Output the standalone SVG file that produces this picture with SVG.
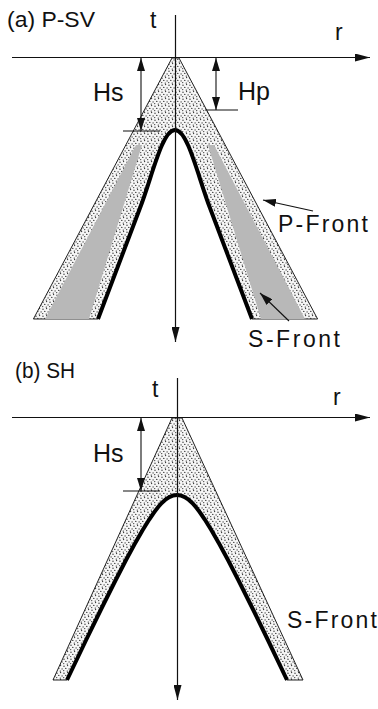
<svg xmlns="http://www.w3.org/2000/svg" width="378" height="709" viewBox="0 0 378 709">
<style>
.lbl{font-family:"Liberation Sans","DejaVu Sans",sans-serif;fill:#111}
.ax{stroke:#111;stroke-width:1.2;fill:none}
.dim{stroke:#111;stroke-width:1.1;fill:none}
.band{fill:url(#dots);stroke:#222;stroke-width:1;stroke-linejoin:miter}
.gray{fill:#b8b8b8;stroke:none}
.sfront{fill:none;stroke:#000;stroke-width:4;stroke-linejoin:round;stroke-linecap:butt}
</style>
<defs>
<pattern id="dots" width="7" height="7" patternUnits="userSpaceOnUse">
<rect width="7" height="7" fill="#f6f6f6"/>
<circle cx="1" cy="1.2" r="0.7" fill="#333"/>
<circle cx="4.6" cy="0.6" r="0.65" fill="#333"/>
<circle cx="2.8" cy="3.4" r="0.7" fill="#333"/>
<circle cx="6.1" cy="3.9" r="0.65" fill="#333"/>
<circle cx="0.7" cy="5.6" r="0.65" fill="#333"/>
<circle cx="4.3" cy="6.1" r="0.7" fill="#333"/>
</pattern>
<marker id="axhead" viewBox="0 0 15 8" refX="15" refY="4" markerWidth="15" markerHeight="8" markerUnits="userSpaceOnUse" orient="auto">
<path d="M0,0 L15,4 L0,8 Z" fill="#111"/>
</marker>
<marker id="dimhead" viewBox="0 0 13 8" refX="13" refY="4" markerWidth="13" markerHeight="8" markerUnits="userSpaceOnUse" orient="auto-start-reverse">
<path d="M0,0 L13,4 L0,8 Z" fill="#111"/>
</marker>
</defs>
<rect width="378" height="709" fill="#fff"/>

<g id="panel-a-wavefronts">
<path class="band" d="M172,58 L179,58 L317.6,319 L252,319 L210,208 C198,177 188,130 175,130 C162,130 152,177 140,208 L98,319 L33.4,319 Z"/>
<path class="gray" d="M136,145 L142,145 L89,319 L45,319 Z"/>
<path class="gray" d="M208,145 L214,145 L305,319 L261,319 Z"/>
<path class="sfront" d="M98,319 L140,208 C152,177 162,130 175,130 C188,130 198,177 210,208 L252,319"/>
</g>

<g id="panel-b-wavefronts">
<path class="band" d="M172,418 L182,418 L303,680 L287,680 L267.9,640 L253.3,610 L238.3,580 L228,560 L219.9,545 L211.3,530 L205.1,520 C198.5,510 189,495 177,495 C165,495 155.5,510 148.9,520 L142.7,530 L134.1,545 L126,560 L115.7,580 L100.7,610 L86.1,640 L67,680 L53,680 Z"/>
<path class="sfront" d="M67,680 L86.1,640 L100.7,610 L115.7,580 L126,560 L134.1,545 L142.7,530 L148.9,520 C155.5,510 165,495 177,495 C189,495 198.5,510 205.1,520 L211.3,530 L219.9,545 L228,560 L238.3,580 L253.3,610 L267.9,640 L287,680"/>
</g>

<g id="connectors">
<line class="ax" x1="12" y1="57.5" x2="370" y2="57.5" marker-end="url(#axhead)"/>
<line class="ax" x1="175.5" y1="15" x2="175.5" y2="342" marker-end="url(#axhead)"/>
<line class="dim" x1="141" y1="58" x2="141" y2="131" marker-start="url(#dimhead)" marker-end="url(#dimhead)"/>
<line class="dim" x1="123" y1="131" x2="160" y2="131"/>
<line class="dim" x1="216" y1="58" x2="216" y2="110" marker-start="url(#dimhead)" marker-end="url(#dimhead)"/>
<line class="dim" x1="205" y1="110" x2="238" y2="110"/>
<line class="dim" x1="313" y1="211" x2="263" y2="200" marker-end="url(#dimhead)"/>
<line class="dim" x1="289" y1="321" x2="260" y2="293" marker-end="url(#dimhead)"/>
<line class="ax" x1="12" y1="417.5" x2="370" y2="417.5" marker-end="url(#axhead)"/>
<line class="ax" x1="177.5" y1="378" x2="177.5" y2="700" marker-end="url(#axhead)"/>
<line class="dim" x1="141" y1="418" x2="141" y2="491" marker-start="url(#dimhead)" marker-end="url(#dimhead)"/>
<line class="dim" x1="123" y1="491" x2="160" y2="491"/>
</g>

<g id="labels-a">
<text class="lbl" x="7" y="27" font-size="22" textLength="88" lengthAdjust="spacingAndGlyphs">(a) P-SV</text>
<text class="lbl" x="150" y="28" font-size="23">t</text>
<text class="lbl" x="335" y="40" font-size="23">r</text>
<text class="lbl" x="93" y="101" font-size="25">Hs</text>
<text class="lbl" x="238" y="100" font-size="25">Hp</text>
<text class="lbl" x="278" y="232" font-size="23" textLength="90" lengthAdjust="spacing">P-Front</text>
<text class="lbl" x="248" y="347" font-size="23" textLength="92" lengthAdjust="spacing">S-Front</text>
</g>

<g id="labels-b">
<text class="lbl" x="15" y="378" font-size="22" textLength="60" lengthAdjust="spacingAndGlyphs">(b) SH</text>
<text class="lbl" x="152" y="397" font-size="23">t</text>
<text class="lbl" x="333" y="405" font-size="23">r</text>
<text class="lbl" x="93" y="462" font-size="25">Hs</text>
<text class="lbl" x="287" y="628" font-size="23" textLength="90" lengthAdjust="spacing">S-Front</text>
</g>
</svg>
